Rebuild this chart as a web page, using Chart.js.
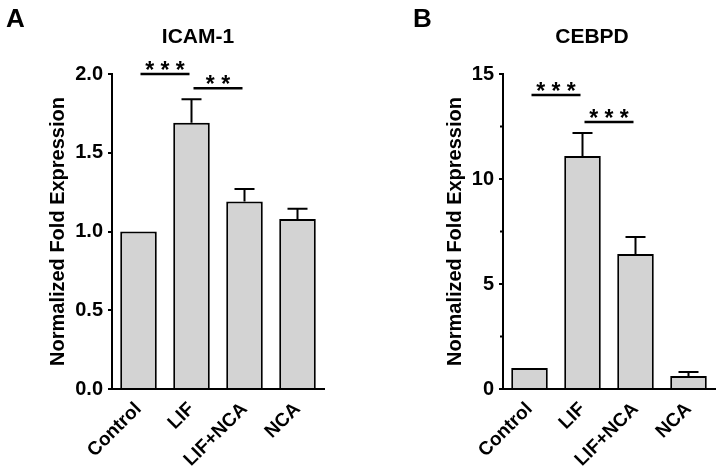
<!DOCTYPE html>
<html><head><meta charset="utf-8">
<script src="https://cdn.jsdelivr.net/npm/chart.js@4/dist/chart.umd.min.js"></script>
<style>
html,body{margin:0;padding:0;background:#fff;width:721px;height:474px;overflow:hidden}
#wa{position:absolute;left:0;top:0;width:360px;height:474px}
#wb{position:absolute;left:360px;top:0;width:361px;height:474px}
</style></head><body>
<div id="wa"><canvas id="ca"></canvas></div>
<div id="wb"><canvas id="cb"></canvas></div>
<script>
// ---- data ----
const categories = ['Control', 'LIF', 'LIF+NCA', 'NCA'];
const icamMean = [1.0, 1.69, 1.19, 1.08];
const icamErr = [0, 0.15, 0.08, 0.065];
const cebpdMean = [1.0, 11.1, 6.43, 0.62];
const cebpdErr = [0, 1.09, 0.81, 0.19];
const icamTicks = [0, 0.5, 1.0, 1.5, 2.0];
const cebpdTicks = [0, 5, 10, 15];
const cebpdMinorTicks = [2.5, 7.5, 12.5];
const icamSigFrom = [0, 1];
const icamSigTo = [1, 2];
const icamSigLevel = [2.0, 1.91];
const icamSigLabel = ['***', '**'];
const cebpdSigFrom = [0, 1];
const cebpdSigTo = [1, 2];
const cebpdSigLevel = [14.0, 12.71];
const cebpdSigLabel = ['***', '***'];
const yTitle = 'Normalized Fold Expression';

const FONT = "'Liberation Sans', Arial, Helvetica, sans-serif";

const annot = {
  id: 'annot',
  afterDatasetsDraw(chart, args, o) {
    const ctx = chart.ctx, xs = chart.scales.x, ys = chart.scales.y;
    const meta = chart.getDatasetMeta(0);
    ctx.save();
    ctx.strokeStyle = '#000';
    ctx.lineWidth = 2;
    // error bars (upper only)
    o.means.forEach((m, i) => {
      const e = o.errs[i];
      if (!e) return;
      const px = meta.data[i].x;
      const y0 = ys.getPixelForValue(m), y1 = ys.getPixelForValue(m + e);
      ctx.beginPath();
      ctx.moveTo(px, y0); ctx.lineTo(px, y1);
      ctx.moveTo(px - 10, y1); ctx.lineTo(px + 10, y1);
      ctx.stroke();
    });
    // significance brackets
    ctx.lineWidth = 2.5;
    ctx.fillStyle = '#000';
    ctx.font = 'bold 23px ' + FONT;
    ctx.textAlign = 'center';
    ctx.textBaseline = 'alphabetic';
    o.sigFrom.forEach((f, k) => {
      const xa = xs.getPixelForValue(f) + 2, xb = xs.getPixelForValue(o.sigTo[k]) - 2;
      const yy = ys.getPixelForValue(o.sigLevel[k]);
      ctx.beginPath(); ctx.moveTo(xa, yy); ctx.lineTo(xb, yy); ctx.stroke();
      ctx.fillText(o.sigLabel[k].split('').join(' '), (xa + xb) / 2, yy + 4);
    });
    // minor ticks
    ctx.lineWidth = 2;
    (o.minor || []).forEach(v => {
      const yy = ys.getPixelForValue(v);
      const ax = chart.chartArea.left;
      ctx.beginPath(); ctx.moveTo(ax - 3, yy); ctx.lineTo(ax, yy); ctx.stroke();
    });
    // panel letter and title
    ctx.font = 'bold 26px ' + FONT;
    ctx.textAlign = 'left';
    ctx.fillText(o.letter, o.letterX, 27);
    ctx.font = 'bold 21px ' + FONT;
    ctx.textAlign = 'center';
    ctx.fillText(o.title, o.titleX, 43);
    ctx.restore();
  }
};

function makeChart(id, means, errs, ticksArr, fmt, yMax, cfg) {
  return new Chart(document.getElementById(id), {
    type: 'bar',
    data: {
      labels: categories,
      datasets: [{
        data: means,
        backgroundColor: '#d3d3d3',
        borderColor: '#000',
        borderWidth: 2,
        barPercentage: 0.69,
        categoryPercentage: 1
      }]
    },
    options: {
      responsive: true,
      maintainAspectRatio: false,
      animation: false,
      devicePixelRatio: 1,
      layout: { padding: { left: 0, right: cfg.padRight, top: 74, bottom: 0 } },
      plugins: {
        legend: { display: false },
        tooltip: { enabled: false },
        annot: cfg.annot
      },
      scales: {
        x: {
          offset: true,
          grid: { display: false, drawTicks: false },
          border: { display: true, color: '#000', width: 2 },
          ticks: {
            color: '#000', autoSkip: false, maxRotation: 45, minRotation: 45, padding: 9,
            font: { family: FONT, size: 19, weight: 'bold' }
          },
          afterFit: s => { s.height = 85; }
        },
        y: {
          min: 0, max: yMax,
          grid: { display: true, drawOnChartArea: false, drawTicks: true, tickLength: 4, color: '#000', lineWidth: 2 },
          border: { display: true, color: '#000', width: 2 },
          ticks: {
            color: '#000', padding: 5,
            font: { family: FONT, size: 20, weight: 'bold' },
            callback: v => fmt(v)
          },
          afterBuildTicks: s => { s.ticks = ticksArr.map(v => ({ value: v })); },
          title: {
            display: true, text: yTitle, color: '#000',
            font: { family: FONT, size: 20, weight: 'bold' },
            padding: { top: cfg.titlePad, bottom: 0 }
          },
          afterFit: s => { s.width = cfg.yWidth; }
        }
      }
    },
    plugins: [annot]
  });
}

makeChart('ca', icamMean, icamErr, icamTicks, v => v.toFixed(1), 2.0, {
  padRight: 36, yWidth: 112, titlePad: 46,
  annot: { means: icamMean, errs: icamErr, sigFrom: icamSigFrom, sigTo: icamSigTo, sigLevel: icamSigLevel, sigLabel: icamSigLabel, letter: 'A', letterX: 6, title: 'ICAM-1', titleX: 198 }
});
makeChart('cb', cebpdMean, cebpdErr, cebpdTicks, v => String(v), 15, {
  padRight: 6, yWidth: 143, titlePad: 83,
  annot: { means: cebpdMean, errs: cebpdErr, sigFrom: cebpdSigFrom, sigTo: cebpdSigTo, sigLevel: cebpdSigLevel, sigLabel: cebpdSigLabel, minor: cebpdMinorTicks, letter: 'B', letterX: 53, title: 'CEBPD', titleX: 232 }
});
</script>
</body></html>
